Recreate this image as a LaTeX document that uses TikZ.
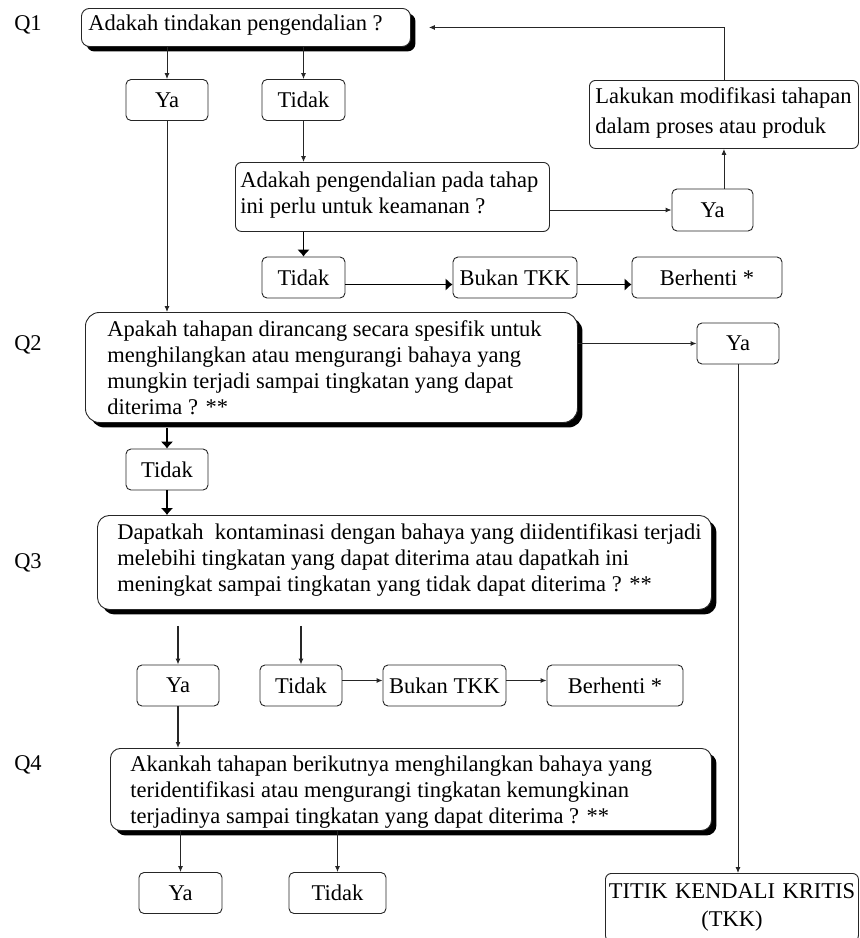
\documentclass[tikz,border=0pt]{standalone}
\usepackage{fontspec}
\setmainfont{Liberation Serif}
\usetikzlibrary{arrows.meta,shadows}
% text block of a box: total width, left gap, downward shift, lines
\newcommand{\flowtext}[4]{\makebox[#1pt][l]{\hspace*{#2pt}\raisebox{0pt}[\dimexpr\height+#3pt\relax][\dimexpr\depth-#3pt\relax]{\begin{tabular}{@{}l@{}}#4\end{tabular}}}}
\begin{document}
\begin{tikzpicture}[x=1pt,y=-1pt,
  every node/.style={font=\fontsize{22.5}{26}\selectfont, text=black},
  tag/.style={inner sep=0pt},
  choice/.style={draw=black!85, line width=0.9pt, rounded corners=5pt, inner sep=0pt, minimum height=41},
  card/.style={draw=black!85, line width=0.9pt, rounded corners=6pt, fill=white, inner sep=0pt, anchor=north west},
  question/.style={card, rounded corners=11pt, drop shadow={shadow xshift=5pt, shadow yshift=-5pt, opacity=1, fill=black}},
  arr/.style={draw=black!85, line width=0.9pt, -{Latex[length=6pt,width=5pt]}},
  bigarr/.style={draw=black, line width=1.5pt, -{Latex[length=7pt,width=13pt]}},
]
\useasboundingbox (0,0) rectangle (860,938);

% question labels
\node[tag] (l1) at (28,25) {Q1};
\node[tag] (l2) at (28,345) {Q2};
\node[tag] (l3) at (28,563) {Q3};
\node[tag] (l4) at (28,765) {Q4};

% Q1
\node[question, rounded corners=8pt, minimum height=38] (q1) at (81,8)
  {\flowtext{329}{7}{-2}{Adakah tindakan pengendalian ?}};
\node[choice, minimum width=82] (ya1) at (167,100) {Ya};
\node[choice, minimum width=83] (t1) at (303.5,100) {Tidak};
\node[card, minimum height=69] (q1b) at (235,162)
  {\flowtext{314}{5}{-1.5}{Adakah pengendalian pada tahap\\ini perlu untuk keamanan ?}};
\node[choice, minimum width=81, minimum height=42] (yr1) at (712.5,210) {Ya};
\node[card, minimum height=68, font=\fontsize{22.5}{29.5}\selectfont] (lak) at (589,80)
  {\flowtext{269}{6}{-2}{Lakukan modifikasi tahapan\\dalam proses atau produk}};
\node[choice, minimum width=83] (t2) at (303.5,277.5) {Tidak};
\node[choice, minimum width=124] (bk1) at (515,277.5) {Bukan TKK};
\node[choice, minimum width=150] (bh1) at (707,277.5) {Berhenti *};

% Q2
\node[question, rounded corners=14pt, minimum height=110] (q2) at (85,312)
  {\flowtext{492}{22}{3}{Apakah tahapan dirancang secara spesifik untuk\\menghilangkan atau mengurangi bahaya yang\\mungkin terjadi sampai tingkatan yang dapat\\diterima ? **}};
\node[choice, minimum width=82] (yr2) at (738,343.5) {Ya};
\node[choice, minimum width=82] (t3) at (167,469.5) {Tidak};

% Q3
\node[question, rounded corners=12pt, minimum height=94] (q3) at (97,515)
  {\flowtext{614}{20}{-2}{Dapatkah\ \ kontaminasi dengan bahaya yang diidentifikasi terjadi\\melebihi tingkatan yang dapat diterima atau dapatkah ini\\meningkat sampai tingkatan yang tidak dapat diterima ? **}};
\node[choice, minimum width=82] (ya3) at (178,685.5) {Ya};
\node[choice, minimum width=82] (t4) at (301,685.5) {Tidak};
\node[choice, minimum width=123] (bk2) at (444.5,685.5) {Bukan TKK};
\node[choice, minimum width=136] (bh2) at (615,685.5) {Berhenti *};

% Q4
\node[question, rounded corners=10pt, minimum height=82] (q4) at (110,748)
  {\flowtext{601}{20}{3}{Akankah tahapan berikutnya menghilangkan bahaya yang\\teridentifikasi atau mengurangi tingkatan kemungkinan\\terjadinya sampai tingkatan yang dapat diterima ? **}};
\node[choice, minimum width=83] (ya4) at (180.5,893) {Ya};
\node[choice, minimum width=97] (t5) at (337.5,893) {Tidak};

% critical control point
\node[card, align=center, text width=253, minimum height=68, font=\fontsize{22.5}{28}\selectfont] (tkk) at (605,873)
  {TITIK KENDALI KRITIS\\(TKK)};

% connectors
\draw[arr] (ya1.north |- q1.south) -- (ya1.north);
\draw[arr] (t1.north |- q1.south) -- (t1.north);
\draw[arr] (t1.south) -- (t1.south |- q1b.north);
\draw[arr] (ya1.south) -- (ya1.south |- q2.north);
\draw[bigarr] (t2.north |- q1b.south) -- (t2.north);
\draw[arr] (q1b.east |- yr1.west) -- (yr1.west);
\draw[arr] (yr1.north -| lak.south) -- (lak.south);
\draw[arr, shorten >=18pt] (lak.north) |- (q1.east);
\draw[bigarr] ([yshift=-7pt]t2.east) -- ([yshift=-7pt]bk1.west);
\draw[bigarr] ([yshift=-7pt]bk1.east) -- ([yshift=-7pt]bh1.west);
\draw[arr] (q2.east |- yr2.west) -- (yr2.west);
\draw[arr] (yr2.south) -- (yr2.south |- tkk.north);
\draw[bigarr, shorten <=5pt] (t3.north |- q2.south) -- (t3.north);
\draw[bigarr] (t3.south) -- (t3.south |- q3.north);
\draw[arr, line width=1.2pt, shorten <=16pt] (ya3.north |- q3.south) -- (ya3.north);
\draw[arr, line width=1.2pt, shorten <=16pt] (t4.north |- q3.south) -- (t4.north);
\draw[arr] ([yshift=5pt]t4.east) -- ([yshift=5pt]bk2.west);
\draw[arr] ([yshift=5pt]bk2.east) -- ([yshift=5pt]bh2.west);
\draw[arr, line width=1.2pt] (ya3.south) -- (ya3.south |- q4.north);
\draw[arr] (ya4.north |- q4.south) -- (ya4.north);
\draw[arr] (t5.north |- q4.south) -- (t5.north);
\end{tikzpicture}
\end{document}
